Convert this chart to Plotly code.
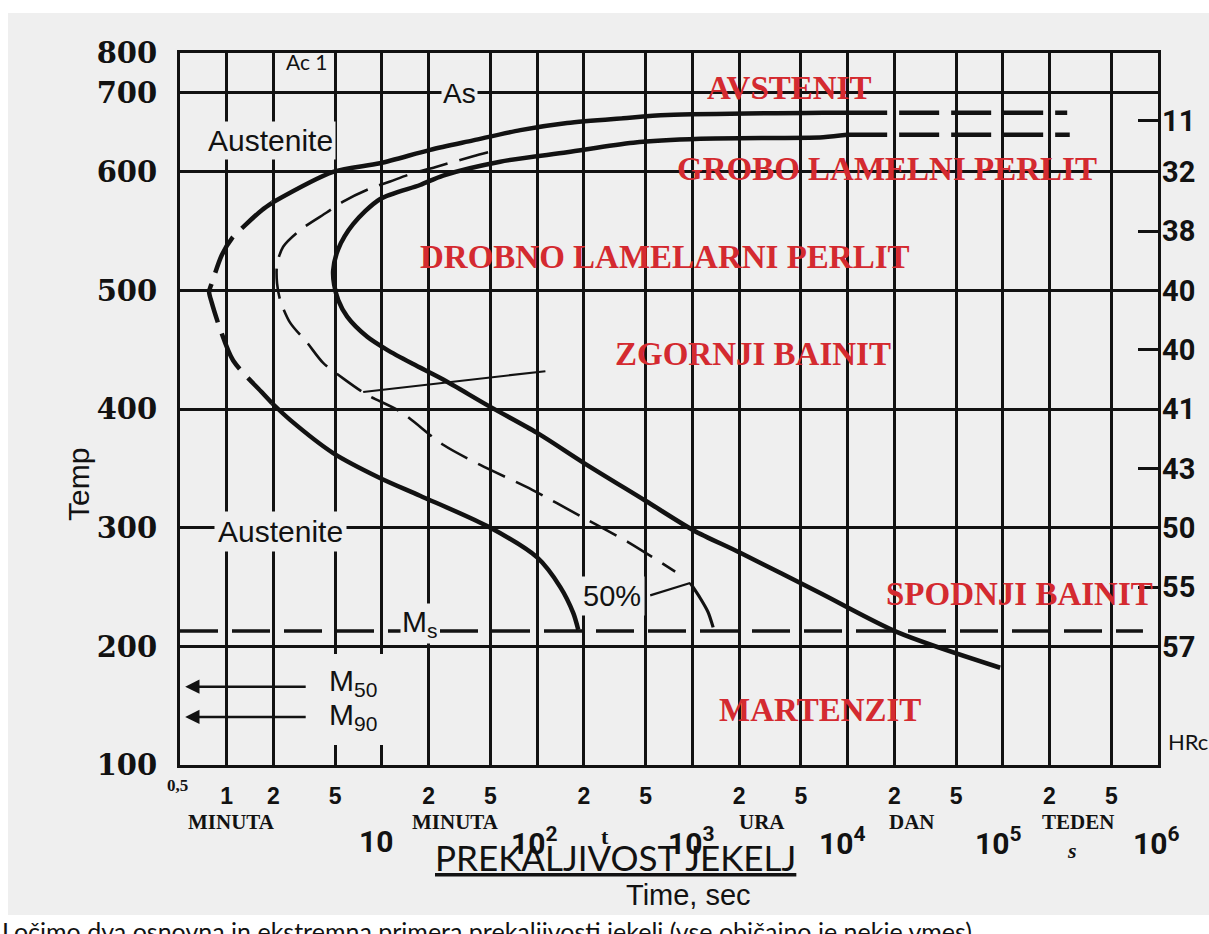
import math
import plotly.graph_objects as go

# ---------------- data ----------------
temp_ticks = [100, 200, 300, 400, 500, 600, 700, 800]
time_ticks = [0.5, 1, 2, 5, 10, 20, 50, 100, 200, 500, 1000, 2000, 5000,
              1e4, 2e4, 5e4, 1e5, 2e5, 5e5, 1e6]
time_tick_labels = ["", "1", "2", "5", "", "2", "5", "", "2", "5", "", "2", "5",
                    "", "2", "5", "", "2", "5", ""]
hardness_temps = [665, 600, 550, 500, 450, 400, 350, 300, 250, 200]
hardness_labels = ["11", "32", "38", "40", "40", "41", "43", "50", "55", "57"]

# start-of-transformation curve (A)
a_upper_time = [1.96, 4.85, 9.7, 20.5, 38.7, 78, 156, 358, 688, 6966, 9940]
a_upper_temp = [574, 600, 611, 628, 640, 653, 662, 668, 672, 675, 675]
a_nose_time = [1.96, 1.69, 1.31, 1.08, 0.93, 0.80, 0.77, 0.80, 0.91, 1.10, 1.69, 1.96]
a_nose_temp = [574, 568, 555, 544, 530, 506, 499, 490, 467, 441, 414, 405]
a_lower_time = [1.96, 2.56, 4.85, 9.7, 17.6, 48.3, 100, 141, 171, 184]
a_lower_temp = [405, 391, 363, 342, 327, 301, 275, 250, 228, 214]
a_ext_time = [9940, 260000]
a_ext_temp = [675, 675]

# 50 % curve (B)
b_time = [48.3, 38.7, 22, 15.9, 11.3, 8.04, 5.62, 4.43, 2.97, 2.31, 2.11, 2.11,
          2.21, 2.56, 3.30, 4.18, 5.62, 8.04, 13.1, 24.8, 43.0, 92.9, 195, 385, 775]
b_temp = [625, 620, 606, 599, 592, 585, 575, 566, 551, 537, 522, 506,
          492, 473, 456, 439, 426, 412, 398, 370, 353, 332, 309, 288, 263]
b_hook_time = [968, 1122, 1262, 1361]
b_hook_temp = [253.5, 240.8, 228.9, 216]
leader50_time = [535, 968]
leader50_temp = [243, 253.5]

# end-of-transformation curve (C)
c_time = [9940, 6966, 1122, 416, 156, 57.8, 24.8, 17.6, 9.7, 6.52, 5.23, 4.85,
          4.92, 5.23, 5.97, 8.04, 10.8, 15.9, 24.8, 48.3, 100, 198, 496, 1012,
          2032, 6650, 20890, 96200]
c_temp = [647, 644, 642, 637, 625, 613, 597, 589, 577, 556, 535, 517,
          505, 492, 478, 461, 450, 438, 425, 403, 380, 355, 323, 298,
          279, 245, 212, 182]
c_ext_time = [9940, 270000]
c_ext_temp = [647, 647]

leader_zb_time = [7.57, 113]
leader_zb_temp = [414.5, 432]

ms_time = [0.5, 8.0e5]
ms_temp = 213
m50_temp = 166
m90_temp = 140.5
arrow_from_time = 3.3
arrow_to_time = 0.54

# ---------------- helpers ----------------
BG = "#efefef"
INK = "#121212"
RED = "#d42a30"

def ymap(T):
    # the scanned diagram compresses the scale above 600 degC
    if T <= 600:
        return T
    if T <= 700:
        return 600 + (T - 600) * 0.666
    return 666.6 + (T - 700) * 0.337

PL, PT, PW, PH = 180, 53, 978, 712

def px(x):
    return (x - PL) / PW

def py(y):
    return (PT + PH - y) / PH

fig = go.Figure()

def curve(t, T, width, dash="solid", shape="spline"):
    fig.add_trace(go.Scatter(
        x=t, y=[ymap(v) for v in T], mode="lines",
        line=dict(color=INK, width=width, dash=dash, shape=shape, smoothing=0.8),
        showlegend=False, hoverinfo="skip"))

curve(a_upper_time, a_upper_temp, 4.5)
curve(a_nose_time, a_nose_temp, 4.5, dash="40px,12px")
curve(a_lower_time, a_lower_temp, 4.5)
curve(a_ext_time, a_ext_temp, 4.5, dash="40px,12px", shape="linear")
curve(c_time, c_temp, 4.5)
curve(c_ext_time, c_ext_temp, 4.5, dash="40px,12px", shape="linear")
curve(b_time, b_temp, 2.6, dash="30px,12px")
curve(b_hook_time, b_hook_temp, 3.2)
curve(leader50_time, leader50_temp, 2.2, shape="linear")
curve(leader_zb_time, leader_zb_temp, 2.2, shape="linear")
curve(ms_time, [ms_temp, ms_temp], 3.5, dash="38px,14px", shape="linear")

# invisible trace to activate the right-hand hardness axis
fig.add_trace(go.Scatter(x=[1], y=[ymap(200)], yaxis="y2", mode="markers",
                         marker=dict(opacity=0), showlegend=False, hoverinfo="skip"))

ann = []

def text(s, x, y, size, family, color=INK, weight="normal", bg=None,
         xanchor="center", yanchor="middle", angle=0, pad=1, style="normal"):
    d = dict(text=s, x=px(x), y=py(y), xref="paper", yref="paper",
             showarrow=False, xanchor=xanchor, yanchor=yanchor, textangle=angle,
             font=dict(size=size, family=family, color=color, weight=weight, style=style),
             borderpad=pad)
    if bg:
        d["bgcolor"] = bg
    ann.append(d)

SANS = "Liberation Sans, Arial, sans-serif"
SERIF = "Liberation Serif, Times New Roman, serif"
NARROW = "Liberation Sans Narrow, Roboto, sans-serif"
BODY = "Lato, Open Sans, sans-serif"

# region names (red)
text("AVSTENIT", 789, 88, 33, SERIF, RED, "bold")
text("GROBO LAMELNI PERLIT", 887, 169, 33, SERIF, RED, "bold")
text("DROBNO LAMELARNI PERLIT", 665, 257, 33, SERIF, RED, "bold")
text("ZGORNJI BAINIT", 753, 354, 33, SERIF, RED, "bold")
text("SPODNJI BAINIT", 1019, 594, 33, SERIF, RED, "bold")
text("MARTENZIT", 820, 710, 33, SERIF, RED, "bold")

# black labels inside
text("Austenite", 270, 140, 30, SANS, bg=BG, pad=2)
text("Austenite", 280, 531, 30, SANS, bg=BG, pad=3)
text("As", 459, 94, 28, SANS, bg=BG, pad=1)
text("50%", 612, 596, 29, SANS, bg=BG, pad=3)
text("M<sub>s</sub>", 420, 623, 30, SANS, bg=BG, pad=1)
text("M<sub>50</sub>", 353, 682, 30, SANS)
text("M<sub>90</sub>", 353, 716, 30, SANS)
text("Ac 1", 307, 61, 21, BODY)
text("HRc", 1166, 741, 22, BODY, xanchor="left")

# arrows for M50 / M90
for T in (m50_temp, m90_temp):
    ann.append(dict(x=math.log10(arrow_to_time), y=ymap(T), xref="x", yref="y",
                    ax=math.log10(arrow_from_time), ay=ymap(T), axref="x", ayref="y",
                    text="", showarrow=True, arrowhead=2, arrowsize=1.1,
                    arrowwidth=2.6, arrowcolor=INK))

# axis titles & extra labels
text("Temp", 79, 485, 30, SANS, angle=-90)
text("0,5", 177, 785, 17, SERIF, weight="bold")
for lab, xx in [("MINUTA", 231), ("MINUTA", 455), ("URA", 762), ("DAN", 912), ("TEDEN", 1078)]:
    text(lab, xx, 822, 21, SERIF, weight="bold")
text("t", 605, 836, 22, SERIF, weight="bold")
text("s", 1072, 850, 22, SERIF, weight="bold", style="italic")
for lab, xx in [("10", 376), ("10<sup>2</sup>", 534), ("10<sup>3</sup>", 691),
                ("10<sup>4</sup>", 842), ("10<sup>5</sup>", 998), ("10<sup>6</sup>", 1156)]:
    text(lab, xx, 841, 30, NARROW, weight="bold")
text("Time, sec", 688, 895, 29, SANS)
text("<u>PREKALJIVOST JEKELJ</u>", 615, 857, 35, BODY)
text("Ločimo dva osnovna in ekstremna primera prekaljivosti jekeli (vse običajno je nekje vmes).",
     0, 914, 25, BODY, xanchor="left", yanchor="top")

shapes = [
    # white margins outside the scanned picture
    dict(type="rect", xref="paper", yref="paper", x0=px(0), x1=px(1209), y0=py(934), y1=py(915),
         fillcolor="white", line=dict(width=0), layer="below"),
    dict(type="rect", xref="paper", yref="paper", x0=px(0), x1=px(1209), y0=py(13), y1=py(0),
         fillcolor="white", line=dict(width=0), layer="below"),
    dict(type="rect", xref="paper", yref="paper", x0=px(0), x1=px(8), y0=py(934), y1=py(0),
         fillcolor="white", line=dict(width=0), layer="below"),
    # blank patch behind the M50 / M90 labels
    dict(type="rect", xref="paper", yref="paper", x0=px(318), x1=px(392), y0=py(745), y1=py(654),
         fillcolor=BG, line=dict(width=0), layer="above"),
]

fig.update_layout(
    width=1209, height=934,
    margin=dict(l=PL, r=1209 - PL - PW, t=PT, b=934 - PT - PH, autoexpand=False),
    paper_bgcolor=BG, plot_bgcolor=BG,
    showlegend=False,
    xaxis=dict(type="log", range=[math.log10(0.5), 6], tickvals=time_ticks,
               ticktext=time_tick_labels, showgrid=True, gridcolor=INK, gridwidth=2.9,
               showline=True, mirror=True, linecolor=INK, linewidth=3, ticks="",
               zeroline=False, ticklabelstandoff=8,
               tickfont=dict(family=SANS, size=23, color=INK, weight="bold")),
    yaxis=dict(range=[100, ymap(800)], tickvals=[ymap(v) for v in temp_ticks],
               ticktext=[str(v) for v in temp_ticks], showgrid=True, gridcolor=INK,
               gridwidth=2.9, showline=True, mirror=True, linecolor=INK, linewidth=3,
               ticks="", zeroline=False, ticklabelstandoff=14,
               tickfont=dict(family="DejaVu Serif, serif", size=29, color=INK, weight="bold")),
    yaxis2=dict(overlaying="y", side="right", range=[100, ymap(800)],
                tickvals=[ymap(v) for v in hardness_temps], ticktext=hardness_labels,
                ticks="inside", ticklen=20, tickwidth=3, tickcolor=INK,
                showgrid=False, showline=False, zeroline=False, ticklabelstandoff=3,
                tickfont=dict(family="Roboto, sans-serif", size=29, color=INK, weight="bold")),
    annotations=ann,
    shapes=shapes,
)

fig.write_html("out.html", config={"displayModeBar": False},
               post_script="document.body.style.margin='0';")
